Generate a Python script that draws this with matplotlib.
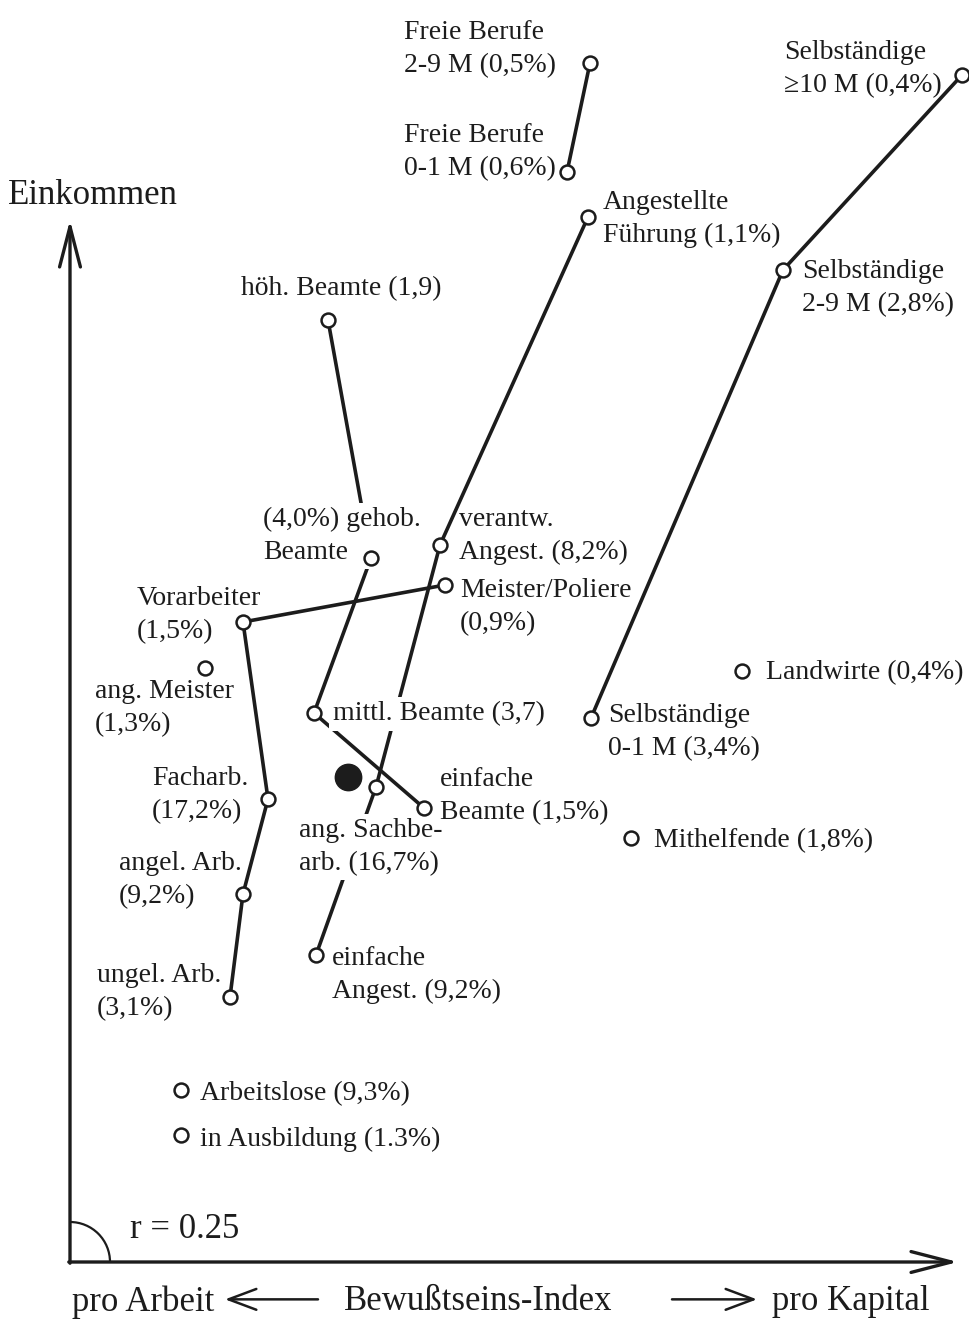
import matplotlib.pyplot as plt
from matplotlib.patches import Arc

plt.rcParams['font.family'] = ['Liberation Serif', 'DejaVu Serif']

INK = '#1c1c1c'

# --- data: x = Bewusstseins-Index (pro Arbeit -> pro Kapital), y = Einkommen ---
freie_labels = ['Freie Berufe\n0-1 M (0,6%)', 'Freie Berufe\n2-9 M (0,5%)']
freie_x = [4.97, 5.20]
freie_y = [10.90, 11.99]

selbst_labels = ['Selbständige\n0-1 M (3,4%)', 'Selbständige\n2-9 M (2,8%)', 'Selbständige\n≥10 M (0,4%)']
selbst_x = [5.21, 7.13, 8.92]
selbst_y = [5.44, 9.92, 11.87]

angest_labels = ['einfache\nAngest. (9,2%)', 'ang. Sachbe-\narb. (16,7%)', 'verantw.\nAngest. (8,2%)',
                 'Angestellte\nFührung (1,1%)']
angest_x = [2.46, 3.06, 3.70, 5.18]
angest_y = [3.07, 4.75, 7.17, 10.45]

beamte_labels = ['höh. Beamte (1,9)', '(4,0%) gehob.\nBeamte', 'mittl. Beamte (3,7)', 'einfache\nBeamte (1,5%)']
beamte_x = [2.58, 3.01, 2.44, 3.54]
beamte_y = [9.42, 7.04, 5.49, 4.54]

arbeiter_labels = ['Meister/Poliere\n(0,9%)', 'Vorarbeiter\n(1,5%)', 'Facharb.\n(17,2%)', 'angel. Arb.\n(9,2%)',
                   'ungel. Arb.\n(3,1%)']
arbeiter_x = [3.75, 1.73, 1.98, 1.73, 1.60]
arbeiter_y = [6.77, 6.40, 4.63, 3.68, 2.65]

single_labels = ['ang. Meister\n(1,3%)', 'Landwirte (0,4%)', 'Mithelfende (1,8%)', 'Arbeitslose (9,3%)',
                 'in Ausbildung (1.3%)']
single_x = [1.35, 6.72, 5.61, 1.11, 1.11]
single_y = [5.94, 5.91, 4.24, 1.72, 1.27]

mean_x = [2.78]
mean_y = [4.85]

# label placement (offset in pixels from the point), per label text
offsets = {
    'Freie Berufe\n2-9 M (0,5%)': (-186, 18, 'left'),
    'Freie Berufe\n0-1 M (0,6%)': (-163, 24, 'left'),
    'Selbständige\n≥10 M (0,4%)': (-178, 10, 'left'),
    'Angestellte\nFührung (1,1%)': (15, 2, 'left'),
    'Selbständige\n2-9 M (2,8%)': (19, -14, 'left'),
    'höh. Beamte (1,9)': (13, 35, 'center'),
    '(4,0%) gehob.\nBeamte': (-108, 26, 'left'),
    'verantw.\nAngest. (8,2%)': (19, 13, 'left'),
    'Meister/Poliere\n(0,9%)': (15, -18, 'left'),
    'Vorarbeiter\n(1,5%)': (-106, 11, 'left'),
    'ang. Meister\n(1,3%)': (-110, -36, 'left'),
    'Facharb.\n(17,2%)': (-116, 8, 'left'),
    'angel. Arb.\n(9,2%)': (-124, 18, 'left'),
    'ungel. Arb.\n(3,1%)': (-133, 9, 'left'),
    'mittl. Beamte (3,7)': (19, 3, 'left'),
    'einfache\nBeamte (1,5%)': (16, 16, 'left'),
    'ang. Sachbe-\narb. (16,7%)': (-77, -56, 'left'),
    'einfache\nAngest. (9,2%)': (16, -16, 'left'),
    'Selbständige\n0-1 M (3,4%)': (17, -10, 'left'),
    'Landwirte (0,4%)': (24, 2, 'left'),
    'Mithelfende (1,8%)': (23, 1, 'left'),
    'Arbeitslose (9,3%)': (19, 0, 'left'),
    'in Ausbildung (1.3%)': (19, 0, 'left'),
}
TEXT_SHIFT = -4  # va='center' counts descenders, nudge labels down a bit
# labels that cut through a line (white backing)
masked = ['(4,0%) gehob.\nBeamte', 'mittl. Beamte (3,7)', 'ang. Sachbe-\narb. (16,7%)']

W, H = 969, 1320
fig = plt.figure(figsize=(W / 100, H / 100), dpi=100)
ax = fig.add_axes([0, 0, 1, 1])
ax.set_xlim(-0.70, 8.99)
ax.set_ylim(-0.58, 12.62)
ax.axis('off')

groups = [
    (freie_labels, freie_x, freie_y, True),
    (selbst_labels, selbst_x, selbst_y, True),
    (angest_labels, angest_x, angest_y, True),
    (beamte_labels, beamte_x, beamte_y, True),
    (arbeiter_labels, arbeiter_x, arbeiter_y, True),
    (single_labels, single_x, single_y, False),
]

for labels, xs, ys, connect in groups:
    if connect:
        ax.plot(xs, ys, color=INK, lw=2.6, zorder=2, solid_capstyle='butt')
    ax.plot(xs, ys, ls='none', marker='o', ms=10, mfc='white', mec=INK, mew=1.8, zorder=5)
    for lab, x, y in zip(labels, xs, ys):
        dx, dy, ha = offsets[lab]
        kw = {}
        if lab in masked:
            kw['bbox'] = dict(facecolor='white', edgecolor='none', pad=3)
        ax.annotate(lab, (x, y), xytext=(dx, dy + TEXT_SHIFT), textcoords='offset pixels',
                    ha=ha, va='center', multialignment=ha,
                    fontsize=20, color=INK, zorder=3, linespacing=1.4, **kw)

# overall mean
ax.plot(mean_x, mean_y, ls='none', marker='o', ms=19, color=INK, zorder=5)

# axes with arrows
arrow_kw = dict(arrowstyle='->, head_length=2.9, head_width=0.75', lw=2.4, color=INK,
                mutation_scale=10, shrinkA=0, shrinkB=0)
ax.annotate('', xy=(0, 10.42), xytext=(0, -0.012), arrowprops=arrow_kw, zorder=4)
ax.annotate('', xy=(8.88, 0), xytext=(-0.012, 0), arrowprops=arrow_kw, zorder=4)
ax.add_patch(Arc((0, 0), 0.8, 0.8, theta1=0, theta2=90, color=INK, lw=1.6))

ax.text(-0.62, 10.66, 'Einkommen', fontsize=25, color=INK, ha='left', va='center')
ax.text(0.60, 0.32, 'r = 0.25', fontsize=25, color=INK, ha='left', va='center')

# bottom caption
yb = 1 - 1302 / H
fig.text(72 / W, yb, 'pro Arbeit', fontsize=25, color=INK, ha='left', va='center')
fig.text(478 / W, yb, 'Bewußtseins-Index', fontsize=25, color=INK, ha='center', va='center')
fig.text(930 / W, yb, 'pro Kapital', fontsize=25, color=INK, ha='right', va='center')
small_arrow = dict(arrowstyle='->, head_length=2.0, head_width=0.75', lw=1.8, color=INK,
                   mutation_scale=10, shrinkA=0, shrinkB=0)
ax.annotate('', xy=(225 / W, yb + 0.002), xytext=(318 / W, yb + 0.002), xycoords='figure fraction',
            arrowprops=small_arrow)
ax.annotate('', xy=(757 / W, yb + 0.002), xytext=(672 / W, yb + 0.002), xycoords='figure fraction',
            arrowprops=small_arrow)

fig.savefig('out.png', dpi=100, facecolor='white')
